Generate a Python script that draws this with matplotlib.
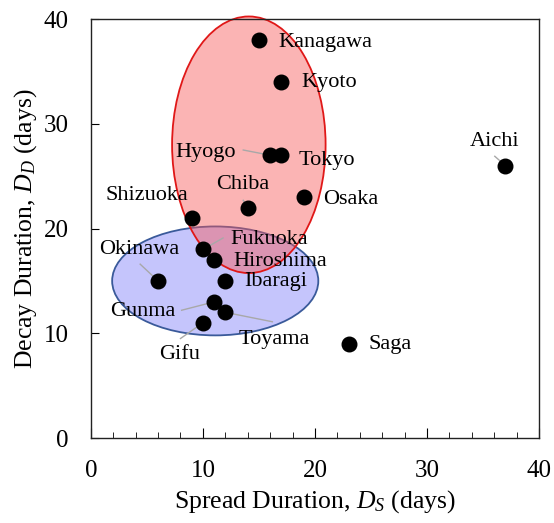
import matplotlib
matplotlib.use("Agg")
import matplotlib.pyplot as plt
from matplotlib.patches import Ellipse
from matplotlib.ticker import MultipleLocator

plt.rcParams['font.family'] = ['Liberation Serif', 'DejaVu Serif']
plt.rcParams['mathtext.fontset'] = 'custom'
plt.rcParams['mathtext.rm'] = 'Liberation Serif'
plt.rcParams['mathtext.it'] = 'Liberation Serif:italic'

prefectures = ['Kanagawa', 'Kyoto', 'Hyogo', 'Tokyo', 'Aichi', 'Osaka', 'Chiba',
               'Shizuoka', 'Fukuoka', 'Hiroshima', 'Okinawa', 'Ibaragi', 'Gunma',
               'Toyama', 'Gifu', 'Saga']
spread = [15, 17, 16, 17, 37, 19, 14, 9, 10, 11, 6, 12, 11, 12, 10, 23]
decay = [38, 34, 27, 27, 26, 23, 22, 21, 18, 17, 15, 15, 13, 12, 11, 9]

# label positions (data coords), alignment, and whether a leader line is drawn
label_pos = {
    'Kanagawa': (16.7, 37.8, 'left', False),
    'Kyoto': (18.75, 33.9, 'left', False),
    'Hyogo': (12.9, 27.3, 'right', True),
    'Tokyo': (18.55, 26.45, 'left', False),
    'Aichi': (36.05, 28.3, 'center', True),
    'Osaka': (20.7, 22.8, 'left', False),
    'Chiba': (13.55, 24.2, 'center', True),
    'Shizuoka': (5.04, 23.15, 'center', False),
    'Fukuoka': (12.43, 19.0, 'left', True),
    'Hiroshima': (12.73, 16.9, 'left', False),
    'Okinawa': (4.34, 18.0, 'center', True),
    'Ibaragi': (13.7, 14.93, 'left', False),
    'Gunma': (4.63, 12.06, 'center', True),
    'Toyama': (16.35, 9.36, 'center', True),
    'Gifu': (7.92, 7.93, 'center', True),
    'Saga': (24.75, 8.9, 'left', False),
}
# leader line start points (near label), data coords
leader_start = {
    'Hyogo': (13.6, 27.5),
    'Aichi': (36.05, 26.9),
    'Chiba': (13.6, 22.7),
    'Fukuoka': (11.8, 19.1),
    'Okinawa': (4.4, 16.6),
    'Gunma': (8.1, 12.2),
    'Toyama': (16.2, 11.1),
    'Gifu': (8.0, 9.5),
}

fig = plt.figure(figsize=(5.54, 5.23), dpi=100)
ax = fig.add_axes([0.164, 0.1625, 0.809, 0.801])

blue = Ellipse((11.1, 15.0), 18.4, 10.4, facecolor=(0.55, 0.55, 0.98, 0.5),
               edgecolor='#3a5a9a', linewidth=1.3, zorder=1, clip_on=False)
red = Ellipse((14.1, 28.0), 13.7, 24.5, facecolor=(0.97, 0.35, 0.35, 0.45),
              edgecolor='#e01818', linewidth=1.3, zorder=2, clip_on=False)
ax.add_patch(blue)
ax.add_patch(red)

for name, x, y in zip(prefectures, spread, decay):
    lx, ly, ha, lead = label_pos[name]
    if lead:
        sx, sy = leader_start[name]
        ax.plot([sx, x], [sy, y], color='#a8a8a8', linewidth=1.0, zorder=3)
    ax.text(lx, ly, name, ha=ha, va='center', fontsize=16, zorder=5)

ax.scatter(spread, decay, s=110, color='black', zorder=4)

ax.set_xlim(0, 40)
ax.set_ylim(0, 40)
ax.xaxis.set_major_locator(MultipleLocator(10))
ax.xaxis.set_minor_locator(MultipleLocator(2))
ax.yaxis.set_major_locator(MultipleLocator(10))
ax.tick_params(axis='both', which='both', direction='in', labelsize=18, pad=16)
ax.tick_params(axis='x', which='major', length=7)
ax.tick_params(axis='x', which='minor', length=4)
ax.tick_params(axis='y', which='major', length=6)
for sp in ax.spines.values():
    sp.set_linewidth(1.0)
    sp.set_color('#222222')

ax.set_xlabel('Spread Duration, $D_S$ (days)', fontsize=18.5, labelpad=4)
ax.set_ylabel('Decay Duration, $D_D$ (days)', fontsize=18.5, labelpad=3)

fig.savefig('out.png', dpi=100)
